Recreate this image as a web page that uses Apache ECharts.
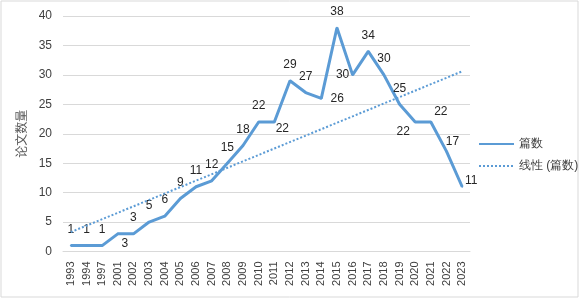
<!DOCTYPE html>
<html>
<head>
<meta charset="utf-8">
<script src="https://cdn.jsdelivr.net/npm/echarts@6/dist/echarts.min.js"></script>
<style>
  html, body { margin: 0; padding: 0; background: #fff; }
  #chart { width: 582px; height: 301px; }
</style>
</head>
<body>
<div id="chart"></div>
<script>
// 年份（类目）
var years = ['1993', '1994', '1997', '2001', '2002', '2003', '2004', '2005', '2006', '2007',
  '2008', '2009', '2010', '2011', '2012', '2013', '2014', '2015', '2016', '2017',
  '2018', '2019', '2020', '2021', '2022', '2023'];
// 篇数
var counts = [1, 1, 1, 3, 3, 5, 6, 9, 11, 12, 15, 18, 22, 22, 29, 27, 26, 38, 30, 34, 30, 25, 22, 22, 17, 11];
// 线性趋势线两端
var trendEnds = [3.3, 30.6];
var yTicks = [0, 5, 10, 15, 20, 25, 30, 35, 40];

var blue = '#5B9BD5';
var fontFam = '"Liberation Sans", Arial, sans-serif';

// 数据标签偏移（样式）
var labelShift = {
  3: [7, 10], 13: [8, 7], 16: [16, 0], 18: [-10, 0],
  22: [-12, 10], 23: [10, -10], 24: [6, -10], 25: [9, -6]
};

var lineData = counts.map(function (v, i) {
  return {
    value: v,
    label: { offset: labelShift[i] || [0, -16] }
  };
});

var trendData = years.map(function (y, i) {
  if (i === 0) return trendEnds[0];
  if (i === years.length - 1) return trendEnds[1];
  return null;
});

var chart = echarts.init(document.getElementById('chart'));
var option = {
  animation: false,
  backgroundColor: '#fff',
  graphic: [{
    type: 'rect',
    shape: { x: 1, y: 1, width: 577, height: 296 },
    style: { fill: 'none', stroke: '#d9d9d9', lineWidth: 1 },
    silent: true
  }],
  grid: { left: 63, top: 16, width: 407, bottom: 49.5 },
  legend: {
    orient: 'vertical',
    left: 473,
    top: 133,
    itemWidth: 35,
    itemHeight: 14,
    itemGap: 10,
    itemStyle: { opacity: 0 },
    textStyle: { color: '#404040', fontSize: 12, fontFamily: fontFam },
    data: ['篇数', '线性 (篇数)']
  },
  xAxis: {
    type: 'category',
    data: years,
    boundaryGap: true,
    axisTick: { show: false },
    axisLine: { lineStyle: { color: '#d9d9d9' } },
    axisLabel: { rotate: 90, interval: 0, margin: 10, color: '#404040', fontSize: 11, fontFamily: fontFam }
  },
  yAxis: {
    type: 'value',
    min: yTicks[0],
    max: yTicks[yTicks.length - 1],
    interval: 5,
    name: '论文数量',
    nameLocation: 'middle',
    nameGap: 35,
    nameRotate: 90,
    nameTextStyle: { color: '#595959', fontSize: 12, fontFamily: '"Noto Sans CJK SC", sans-serif' },
    axisLine: { show: false },
    axisTick: { show: false },
    axisLabel: { margin: 11, color: '#404040', fontSize: 12, fontFamily: fontFam },
    splitLine: { lineStyle: { color: '#d9d9d9' } }
  },
  series: [
    {
      name: '篇数',
      type: 'line',
      data: lineData,
      symbol: 'circle',
      symbolSize: 2,
      showAllSymbol: true,
      itemStyle: { color: blue },
      lineStyle: { color: blue, width: 3 },
      label: {
        show: true,
        position: 'inside',
        color: '#262626',
        fontSize: 12,
        fontFamily: fontFam
      },
      z: 2
    },
    {
      name: '线性 (篇数)',
      type: 'line',
      data: trendData,
      connectNulls: true,
      symbol: 'none',
      itemStyle: { color: blue },
      lineStyle: { color: blue, width: 2, type: 'dotted' },
      z: 3
    }
  ]
};
option && chart.setOption(option);
</script>
</body>
</html>
